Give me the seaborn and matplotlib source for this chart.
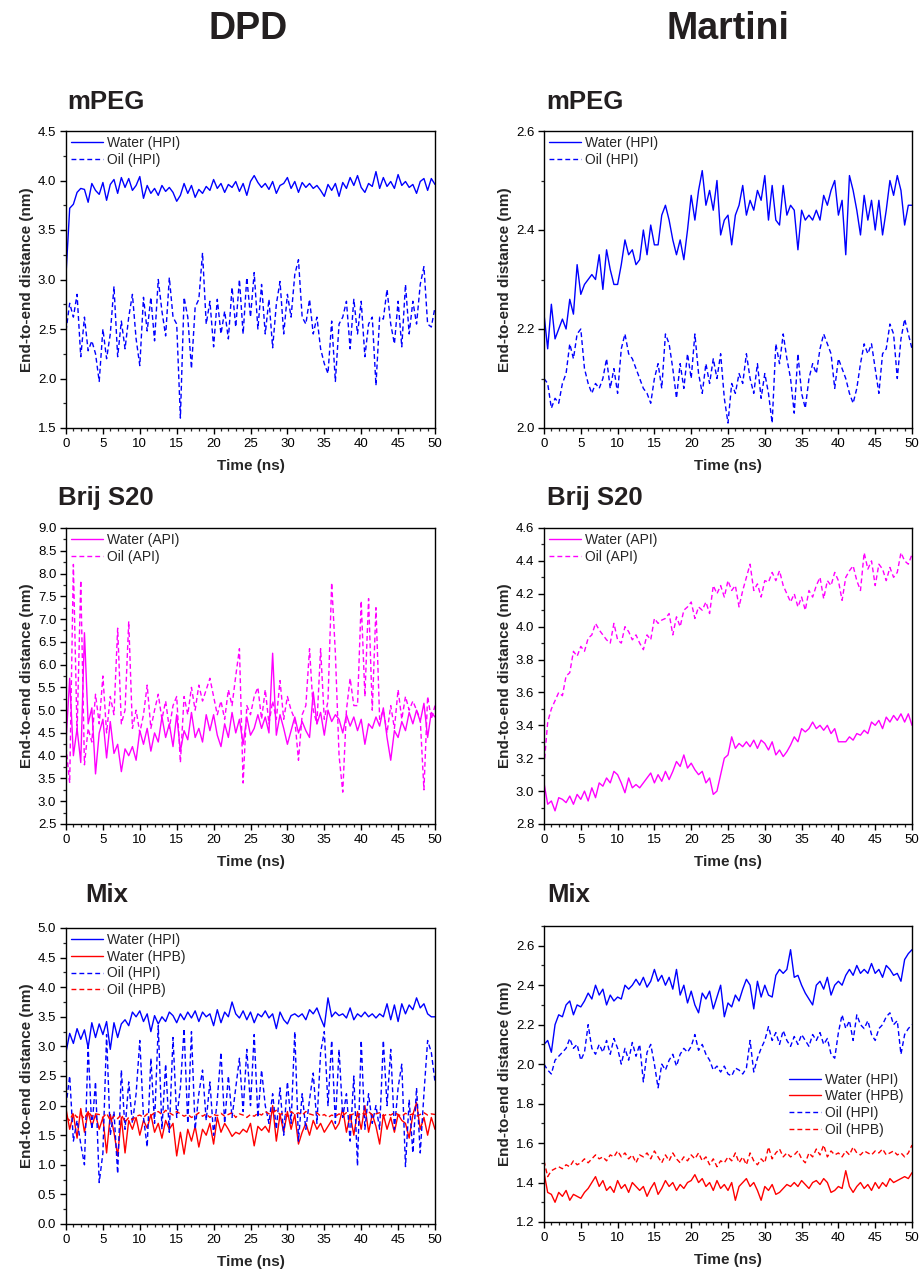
import numpy as np
import matplotlib
matplotlib.use("Agg")
import matplotlib.pyplot as plt
from matplotlib.ticker import MultipleLocator
import seaborn as sns

# ---------------- data ----------------
time_ns = np.arange(0, 50.01, 0.5)

# DPD mPEG
dpd_peg_water_hpi = [3.05, 3.72, 3.76, 3.88, 3.92, 3.91, 3.78, 3.97, 3.90, 3.86, 3.98, 3.80, 3.96, 4.01, 3.87, 4.03, 3.93, 4.02, 3.90, 3.95,
                     4.04, 3.82, 3.95, 3.87, 3.92, 3.85, 3.95, 3.89, 3.93, 3.88, 3.79, 3.85, 3.97, 3.87, 3.95, 3.83, 3.91, 3.87, 3.94, 3.90,
                     4.01, 3.92, 3.97, 3.88, 3.96, 3.93, 3.99, 3.89, 3.97, 3.85, 3.99, 4.05, 3.98, 3.93, 3.97, 3.91, 3.99, 3.87, 3.95, 3.97,
                     4.03, 3.92, 3.99, 3.88, 3.98, 3.93, 3.97, 3.92, 3.95, 3.90, 3.84, 3.96, 3.90, 3.97, 3.84, 3.98, 3.92, 4.03, 3.95, 4.05,
                     3.93, 3.88, 3.97, 3.94, 4.09, 3.92, 4.03, 3.94, 3.99, 3.92, 4.06, 3.95, 3.99, 3.93, 3.96, 3.87, 3.99, 4.02, 3.90, 4.02, 3.96]
dpd_peg_oil_hpi = [2.48, 2.76, 2.62, 2.85, 2.22, 2.62, 2.28, 2.38, 2.25, 1.97, 2.50, 2.20, 2.45, 2.93, 2.22, 2.58, 2.30, 2.62, 2.85, 2.40,
                   2.13, 2.82, 2.48, 2.82, 2.38, 3.00, 2.68, 2.43, 3.02, 2.62, 2.55, 1.60, 2.82, 2.62, 2.10, 2.72, 2.80, 3.27, 2.55, 2.78,
                   2.32, 2.80, 2.45, 2.68, 2.40, 2.92, 2.52, 3.00, 2.45, 3.02, 2.62, 3.07, 2.50, 2.95, 2.45, 2.80, 2.31, 2.75, 2.98, 2.45,
                   2.85, 2.62, 3.05, 3.20, 2.62, 2.55, 2.80, 2.45, 2.62, 2.30, 2.15, 2.05, 2.58, 1.97, 2.55, 2.62, 2.78, 2.30, 2.80, 2.45,
                   2.78, 2.22, 2.55, 2.62, 1.93, 2.62, 2.60, 2.90, 2.55, 2.35, 2.78, 2.32, 2.95, 2.45, 2.78, 2.55, 2.95, 3.13, 2.55, 2.52, 2.72]

# Martini mPEG
mar_peg_water_hpi = [2.23, 2.16, 2.25, 2.18, 2.20, 2.22, 2.20, 2.26, 2.23, 2.33, 2.27, 2.29, 2.30, 2.31, 2.30, 2.35, 2.28, 2.36, 2.32, 2.29,
                     2.29, 2.33, 2.38, 2.35, 2.36, 2.33, 2.34, 2.40, 2.35, 2.41, 2.37, 2.37, 2.43, 2.45, 2.42, 2.38, 2.35, 2.38, 2.34, 2.40,
                     2.47, 2.42, 2.48, 2.52, 2.45, 2.48, 2.44, 2.50, 2.39, 2.42, 2.43, 2.37, 2.43, 2.45, 2.49, 2.43, 2.46, 2.44, 2.48, 2.46,
                     2.51, 2.42, 2.49, 2.42, 2.41, 2.49, 2.43, 2.45, 2.44, 2.36, 2.44, 2.42, 2.43, 2.42, 2.44, 2.42, 2.47, 2.45, 2.48, 2.50,
                     2.43, 2.46, 2.35, 2.51, 2.48, 2.44, 2.39, 2.47, 2.42, 2.46, 2.40, 2.46, 2.39, 2.44, 2.50, 2.47, 2.51, 2.48, 2.41, 2.45, 2.45]
mar_peg_oil_hpi = [2.10, 2.09, 2.04, 2.06, 2.05, 2.09, 2.11, 2.17, 2.14, 2.19, 2.20, 2.12, 2.09, 2.07, 2.09, 2.08, 2.10, 2.14, 2.08, 2.12,
                   2.07, 2.16, 2.19, 2.15, 2.14, 2.12, 2.10, 2.08, 2.07, 2.05, 2.10, 2.13, 2.08, 2.19, 2.17, 2.12, 2.06, 2.13, 2.08, 2.15,
                   2.10, 2.19, 2.11, 2.07, 2.13, 2.09, 2.14, 2.10, 2.15, 2.06, 2.01, 2.09, 2.07, 2.11, 2.09, 2.15, 2.10, 2.07, 2.13, 2.06,
                   2.11, 2.07, 2.01, 2.17, 2.13, 2.19, 2.14, 2.10, 2.03, 2.15, 2.07, 2.04, 2.10, 2.13, 2.11, 2.16, 2.19, 2.17, 2.15, 2.08,
                   2.14, 2.12, 2.10, 2.07, 2.05, 2.08, 2.13, 2.17, 2.15, 2.17, 2.12, 2.07, 2.15, 2.16, 2.21, 2.19, 2.10, 2.18, 2.22, 2.19, 2.16]

# DPD Brij S20
dpd_brij_water_api = [4.30, 5.70, 4.00, 4.60, 3.85, 6.70, 4.70, 5.05, 3.60, 4.50, 4.80, 3.95, 4.75, 4.05, 4.25, 3.65, 4.15, 4.00, 4.20, 3.90,
                      4.55, 4.25, 4.60, 4.10, 4.50, 4.30, 4.85, 4.40, 4.70, 4.20, 4.90, 4.10, 4.55, 4.35, 4.95, 4.40, 4.60, 4.30, 4.90, 4.55,
                      4.90, 4.45, 4.20, 4.70, 4.40, 4.95, 4.50, 4.80, 4.25, 4.85, 4.45, 4.60, 4.90, 4.60, 4.85, 4.50, 6.25, 4.45, 4.90, 4.60,
                      4.25, 4.55, 4.85, 4.50, 4.75, 4.55, 4.40, 5.40, 4.70, 4.95, 4.45, 5.00, 4.75, 4.90, 4.80, 4.50, 4.90, 4.65, 4.85, 4.55,
                      4.80, 4.25, 4.70, 4.60, 4.85, 4.65, 5.05, 4.40, 3.90, 4.55, 4.40, 4.75, 4.55, 4.95, 4.70, 5.00, 4.75, 5.15, 4.40, 4.95, 4.85]
dpd_brij_oil_api = [4.20, 3.40, 8.20, 4.50, 7.85, 3.80, 4.60, 4.30, 5.35, 4.70, 5.75, 4.50, 5.30, 4.90, 6.80, 4.70, 5.00, 6.95, 4.60, 5.00,
                    4.50, 4.90, 5.55, 4.60, 5.00, 5.35, 4.80, 5.20, 4.60, 5.10, 5.30, 3.85, 5.30, 4.90, 5.50, 5.00, 5.55, 5.20, 5.45, 5.70,
                    5.30, 4.90, 5.20, 4.80, 5.45, 5.10, 5.75, 6.35, 3.40, 5.10, 4.90, 5.30, 5.50, 4.80, 5.45, 4.70, 5.20, 4.80, 5.65, 4.80,
                    5.30, 5.00, 4.80, 3.90, 4.90, 5.10, 6.35, 5.00, 4.70, 6.35, 4.80, 5.20, 7.80, 6.25, 4.00, 3.20, 5.00, 5.70, 5.10, 5.10,
                    7.40, 5.30, 7.45, 5.00, 7.25, 4.80, 5.00, 4.50, 5.10, 4.60, 5.45, 4.80, 5.30, 5.00, 5.20, 5.00, 4.80, 3.25, 5.30, 4.80, 5.10]

# Martini Brij S20
mar_brij_water_api = [3.05, 2.92, 2.94, 2.88, 2.96, 2.95, 2.93, 2.97, 2.92, 2.98, 2.95, 3.00, 2.94, 3.02, 2.96, 3.05, 3.03, 3.08, 3.05, 3.12,
                      3.10, 3.05, 2.99, 3.08, 3.02, 3.04, 3.02, 3.05, 3.08, 3.11, 3.05, 3.10, 3.06, 3.12, 3.07, 3.12, 3.18, 3.15, 3.22, 3.14,
                      3.17, 3.13, 3.10, 3.12, 3.05, 3.08, 2.98, 3.00, 3.10, 3.20, 3.22, 3.33, 3.26, 3.29, 3.27, 3.30, 3.27, 3.31, 3.26, 3.31,
                      3.29, 3.25, 3.30, 3.22, 3.25, 3.21, 3.24, 3.28, 3.33, 3.30, 3.38, 3.36, 3.38, 3.42, 3.38, 3.40, 3.37, 3.40, 3.35, 3.38,
                      3.30, 3.30, 3.30, 3.33, 3.31, 3.35, 3.34, 3.37, 3.35, 3.42, 3.40, 3.43, 3.38, 3.45, 3.42, 3.46, 3.43, 3.47, 3.42, 3.47, 3.40]
mar_brij_oil_api = [3.15, 3.42, 3.50, 3.55, 3.60, 3.58, 3.70, 3.72, 3.85, 3.82, 3.88, 3.85, 3.93, 3.95, 4.02, 3.98, 3.95, 3.92, 3.90, 4.02,
                    3.92, 3.90, 4.00, 3.97, 3.92, 3.95, 3.90, 3.86, 3.95, 3.92, 4.05, 4.02, 4.04, 4.05, 4.08, 3.95, 4.06, 4.00, 4.10, 4.12,
                    4.15, 4.05, 4.12, 4.10, 4.15, 4.08, 4.25, 4.20, 4.25, 4.18, 4.28, 4.22, 4.25, 4.12, 4.22, 4.30, 4.38, 4.22, 4.26, 4.18,
                    4.28, 4.27, 4.33, 4.28, 4.34, 4.25, 4.20, 4.15, 4.20, 4.12, 4.18, 4.10, 4.22, 4.18, 4.25, 4.30, 4.17, 4.28, 4.25, 4.33,
                    4.28, 4.16, 4.30, 4.34, 4.37, 4.28, 4.22, 4.45, 4.35, 4.40, 4.25, 4.38, 4.35, 4.28, 4.36, 4.30, 4.33, 4.45, 4.40, 4.38, 4.44]

# DPD Mix
dpd_mix_water_hpi = [2.90, 3.22, 3.05, 3.30, 3.12, 3.28, 2.98, 3.40, 3.15, 3.38, 3.20, 3.42, 2.95, 3.40, 3.15, 3.38, 3.45, 3.35, 3.58, 3.50,
                     3.60, 3.42, 3.55, 3.25, 3.52, 3.38, 3.50, 3.42, 3.58, 3.52, 3.40, 3.55, 3.45, 3.58, 3.48, 3.60, 3.42, 3.58, 3.50, 3.55,
                     3.35, 3.62, 3.40, 3.58, 3.50, 3.75, 3.55, 3.48, 3.60, 3.45, 3.58, 3.40, 3.55, 3.50, 3.60, 3.48, 3.55, 3.30, 3.58, 3.45,
                     3.38, 3.52, 3.55, 3.50, 3.55, 3.45, 3.62, 3.55, 3.65, 3.48, 3.33, 3.82, 3.50, 3.58, 3.52, 3.55, 3.48, 3.65, 3.45, 3.55,
                     3.50, 3.58, 3.50, 3.55, 3.48, 3.55, 3.50, 3.72, 3.45, 3.70, 3.42, 3.72, 3.55, 3.70, 3.62, 3.82, 3.65, 3.72, 3.55, 3.50, 3.50]
dpd_mix_water_hpb = [1.95, 1.60, 1.85, 1.45, 1.95, 1.55, 1.90, 1.65, 1.85, 1.60, 1.80, 1.20, 1.85, 1.55, 1.15, 1.80, 1.20, 1.75, 1.60, 1.80,
                     1.50, 1.75, 1.62, 1.85, 1.55, 1.70, 1.45, 1.75, 1.60, 1.70, 1.15, 1.55, 1.18, 1.60, 1.40, 1.65, 1.30, 1.60, 1.50, 1.70,
                     1.35, 1.80, 1.55, 1.70, 1.60, 1.48, 1.55, 1.52, 1.60, 1.55, 1.70, 1.32, 1.65, 1.58, 1.65, 1.55, 2.00, 1.40, 1.85, 1.55,
                     1.90, 1.60, 1.85, 1.35, 1.55, 1.70, 1.50, 1.75, 1.60, 1.70, 1.55, 1.65, 1.75, 1.60, 1.70, 1.95, 1.55, 1.85, 1.50, 1.90,
                     1.60, 2.00, 1.55, 1.85, 1.65, 1.35, 1.85, 1.60, 1.80, 1.55, 1.85, 1.75, 1.70, 1.45, 1.85, 2.05, 1.60, 1.80, 1.50, 1.80, 1.60]
dpd_mix_oil_hpi = [2.00, 2.50, 1.40, 1.75, 1.35, 1.00, 3.00, 1.60, 2.40, 0.70, 1.20, 3.20, 1.50, 1.90, 0.85, 2.60, 1.60, 2.40, 1.70, 2.20,
                   3.10, 1.80, 1.30, 2.80, 1.70, 3.35, 1.60, 2.70, 1.55, 3.15, 1.80, 2.30, 3.30, 1.70, 3.25, 1.60, 2.20, 2.60, 1.75, 2.40,
                   1.50, 2.10, 2.90, 1.70, 2.50, 1.80, 2.30, 2.80, 1.90, 2.95, 2.00, 3.20, 1.80, 2.60, 2.00, 1.70, 2.20, 1.60, 2.30, 1.50,
                   2.40, 1.70, 3.25, 1.40, 2.20, 1.60, 2.10, 2.55, 1.70, 2.90, 3.25, 2.00, 3.10, 1.70, 2.95, 1.80, 2.20, 1.40, 2.50, 0.98,
                   3.10, 1.60, 2.20, 1.70, 2.00, 1.60, 3.10, 2.00, 2.95, 1.60, 2.30, 2.70, 0.97, 2.10, 1.20, 2.30, 1.20, 2.20, 3.10, 2.90, 2.40]
dpd_mix_oil_hpb = [1.80, 1.75, 1.88, 1.80, 1.85, 1.78, 1.90, 1.82, 1.86, 1.85, 1.80, 1.87, 1.75, 1.82, 1.78, 1.85, 1.72, 1.80, 1.76, 1.82,
                   1.84, 1.80, 1.86, 1.83, 1.88, 1.90, 1.85, 1.92, 1.88, 1.84, 1.90, 1.86, 1.82, 1.85, 1.80, 1.83, 1.88, 1.82, 1.86, 1.80,
                   1.85, 1.83, 1.87, 1.82, 1.85, 1.88, 1.80, 1.86, 1.84, 1.80, 1.85, 1.82, 1.87, 1.84, 1.90, 1.86, 1.88, 1.92, 1.85, 1.88,
                   1.82, 1.90, 1.85, 1.88, 1.84, 1.90, 1.86, 1.84, 1.88, 1.82, 1.85, 1.80, 1.84, 1.82, 1.86, 1.83, 1.88, 1.84, 1.86, 1.82,
                   1.88, 1.85, 1.90, 1.84, 1.86, 1.88, 1.82, 1.86, 1.84, 1.88, 1.85, 1.82, 1.87, 1.84, 1.86, 1.82, 1.85, 1.88, 1.84, 1.86, 1.85]

# Martini Mix
mar_mix_water_hpi = [2.10, 2.12, 2.06, 2.20, 2.25, 2.24, 2.30, 2.32, 2.25, 2.30, 2.29, 2.32, 2.36, 2.33, 2.40, 2.35, 2.38, 2.30, 2.35, 2.32,
                     2.34, 2.33, 2.40, 2.38, 2.40, 2.43, 2.40, 2.44, 2.39, 2.42, 2.48, 2.42, 2.45, 2.40, 2.44, 2.38, 2.48, 2.35, 2.40, 2.31,
                     2.37, 2.30, 2.26, 2.36, 2.33, 2.37, 2.28, 2.34, 2.40, 2.24, 2.31, 2.29, 2.35, 2.32, 2.38, 2.43, 2.40, 2.28, 2.42, 2.34,
                     2.40, 2.35, 2.34, 2.45, 2.48, 2.46, 2.48, 2.58, 2.44, 2.45, 2.40, 2.36, 2.33, 2.30, 2.40, 2.42, 2.38, 2.44, 2.35, 2.40,
                     2.42, 2.40, 2.45, 2.48, 2.45, 2.50, 2.46, 2.48, 2.46, 2.51, 2.46, 2.48, 2.44, 2.50, 2.48, 2.45, 2.46, 2.42, 2.53, 2.56, 2.58]
mar_mix_water_hpb = [1.45, 1.35, 1.34, 1.30, 1.35, 1.33, 1.36, 1.31, 1.34, 1.33, 1.32, 1.35, 1.37, 1.40, 1.43, 1.38, 1.41, 1.36, 1.38, 1.35,
                     1.41, 1.37, 1.39, 1.35, 1.40, 1.38, 1.36, 1.38, 1.33, 1.37, 1.40, 1.34, 1.37, 1.41, 1.38, 1.40, 1.36, 1.39, 1.37, 1.40,
                     1.41, 1.44, 1.40, 1.42, 1.38, 1.40, 1.36, 1.41, 1.37, 1.39, 1.36, 1.40, 1.31, 1.38, 1.40, 1.42, 1.38, 1.40, 1.36, 1.31,
                     1.38, 1.36, 1.39, 1.34, 1.35, 1.37, 1.39, 1.38, 1.40, 1.38, 1.41, 1.39, 1.37, 1.40, 1.41, 1.39, 1.42, 1.40, 1.35, 1.36,
                     1.38, 1.37, 1.46, 1.38, 1.35, 1.38, 1.40, 1.37, 1.39, 1.36, 1.40, 1.37, 1.40, 1.38, 1.42, 1.40, 1.41, 1.42, 1.43, 1.42, 1.45]
mar_mix_oil_hpi = [2.00, 1.97, 1.95, 2.02, 2.04, 2.06, 2.08, 2.13, 2.08, 2.10, 2.02, 2.06, 2.20, 2.08, 2.05, 2.10, 2.06, 2.12, 2.05, 2.13,
                   2.08, 2.00, 2.08, 2.02, 2.11, 2.04, 2.10, 1.91, 2.06, 2.10, 2.00, 1.88, 2.00, 1.97, 2.02, 2.05, 1.99, 2.05, 2.08, 2.06,
                   2.09, 2.15, 2.07, 2.10, 2.05, 2.02, 1.97, 1.99, 1.96, 1.99, 1.95, 1.94, 1.98, 1.97, 1.95, 1.98, 2.12, 1.96, 2.03, 2.08,
                   2.12, 2.19, 2.12, 2.16, 2.10, 2.17, 2.12, 2.09, 2.14, 2.10, 2.15, 2.12, 2.09, 2.15, 2.12, 2.16, 2.10, 2.13, 2.05, 2.03,
                   2.16, 2.25, 2.18, 2.22, 2.12, 2.25, 2.20, 2.18, 2.22, 2.15, 2.12, 2.18, 2.20, 2.24, 2.26, 2.20, 2.22, 2.05, 2.15, 2.18, 2.20]
mar_mix_oil_hpb = [1.51, 1.43, 1.46, 1.47, 1.48, 1.47, 1.49, 1.48, 1.51, 1.49, 1.50, 1.52, 1.50, 1.52, 1.54, 1.52, 1.53, 1.51, 1.54, 1.53,
                   1.56, 1.53, 1.55, 1.52, 1.54, 1.50, 1.54, 1.53, 1.55, 1.52, 1.56, 1.53, 1.50, 1.54, 1.51, 1.55, 1.52, 1.50, 1.53, 1.51,
                   1.54, 1.52, 1.55, 1.51, 1.53, 1.49, 1.52, 1.48, 1.51, 1.50, 1.53, 1.51, 1.55, 1.50, 1.53, 1.49, 1.55, 1.51, 1.49, 1.52,
                   1.50, 1.58, 1.52, 1.55, 1.57, 1.53, 1.55, 1.53, 1.54, 1.56, 1.52, 1.50, 1.55, 1.53, 1.57, 1.54, 1.59, 1.53, 1.56, 1.54,
                   1.55, 1.53, 1.56, 1.54, 1.58, 1.55, 1.54, 1.56, 1.55, 1.54, 1.56, 1.55, 1.57, 1.54, 1.55, 1.56, 1.54, 1.55, 1.53, 1.55, 1.59]

col_titles = ["DPD", "Martini"]
row_titles = ["mPEG", "Brij S20", "Mix"]
x_label = "Time (ns)"
y_label = "End-to-end distance (nm)"

BLUE = "#0000FF"
MAG = "#FF00FF"
RED = "#FF0000"
SOLID = "-"
DASH = (0, (3.5, 2.2))

panels = [
    # (row, col, series list, ylim, ystep, legend anchor)
    (0, 0, [(dpd_peg_water_hpi, "Water (HPI)", BLUE, SOLID), (dpd_peg_oil_hpi, "Oil (HPI)", BLUE, DASH)], (1.5, 4.5), 0.5, None),
    (0, 1, [(mar_peg_water_hpi, "Water (HPI)", BLUE, SOLID), (mar_peg_oil_hpi, "Oil (HPI)", BLUE, DASH)], (2.0, 2.6), 0.2, None),
    (1, 0, [(dpd_brij_water_api, "Water (API)", MAG, SOLID), (dpd_brij_oil_api, "Oil (API)", MAG, DASH)], (2.5, 9.0), 0.5, None),
    (1, 1, [(mar_brij_water_api, "Water (API)", MAG, SOLID), (mar_brij_oil_api, "Oil (API)", MAG, DASH)], (2.8, 4.6), 0.2, None),
    (2, 0, [(dpd_mix_water_hpi, "Water (HPI)", BLUE, SOLID), (dpd_mix_water_hpb, "Water (HPB)", RED, SOLID),
            (dpd_mix_oil_hpi, "Oil (HPI)", BLUE, DASH), (dpd_mix_oil_hpb, "Oil (HPB)", RED, DASH)], (0.0, 5.0), 0.5, None),
    (2, 1, [(mar_mix_water_hpi, "Water (HPI)", BLUE, SOLID), (mar_mix_water_hpb, "Water (HPB)", RED, SOLID),
            (mar_mix_oil_hpi, "Oil (HPI)", BLUE, DASH), (mar_mix_oil_hpb, "Oil (HPB)", RED, DASH)], (1.2, 2.7), 0.2, (0.665, 0.505)),
]

sns.set_style("ticks")
plt.rcParams["font.family"] = ["Liberation Sans", "DejaVu Sans"]

W, H = 919, 1269
fig = plt.figure(figsize=(W / 100, H / 100), dpi=100)

col_left = [66, 544]
col_right = [435, 912]
row_top = [[131, 131], [528, 528], [928, 926]]
row_bot = [[428, 428], [824, 824], [1224, 1222]]

for (r, c, series, ylim, ystep, legpos) in panels:
    l, rr = col_left[c], col_right[c]
    t, b = row_top[r][c], row_bot[r][c]
    ax = fig.add_axes([l / W, 1 - b / H, (rr - l) / W, (b - t) / H])
    for vals, lab, colr, ls in series:
        sns.lineplot(x=time_ns, y=np.array(vals), ax=ax, color=colr, linestyle=ls,
                     linewidth=1.0, label=lab, estimator=None, sort=False)
    ax.set_xlim(0, 50)
    ax.set_ylim(*ylim)
    ax.xaxis.set_major_locator(MultipleLocator(5))
    ax.xaxis.set_minor_locator(MultipleLocator(1))
    ax.yaxis.set_major_locator(MultipleLocator(ystep))
    ax.yaxis.set_minor_locator(MultipleLocator(ystep / 2))
    ax.tick_params(which="major", direction="out", length=4, width=1, labelsize=9.5, pad=3, colors="black")
    ax.tick_params(which="minor", direction="out", length=2.2, width=0.9)
    ax.tick_params(top=False, right=False, which="both")
    ax.yaxis.set_major_formatter(matplotlib.ticker.FormatStrFormatter("%.1f"))
    for sp in ax.spines.values():
        sp.set_visible(True)
        sp.set_linewidth(1.0)
        sp.set_color("black")
    ax.set_xlabel(x_label, fontsize=11, fontweight="bold", labelpad=7)
    ax.set_ylabel(y_label, fontsize=11, fontweight="bold", labelpad=3)
    if legpos is None:
        ax.legend(loc="upper left", frameon=False, fontsize=10, handlelength=2.3,
                  handletextpad=0.3, labelspacing=0.2, borderaxespad=0.1, borderpad=0.25)
    else:
        ax.legend(loc="upper left", bbox_to_anchor=legpos, frameon=False, fontsize=10, handlelength=2.3,
                  handletextpad=0.3, labelspacing=0.2, borderaxespad=0.0, borderpad=0.0)

# column titles
for txt, xc in zip(col_titles, [248, 728]):
    fig.text(xc / W, 1 - 29 / H, txt, ha="center", va="center", fontsize=27, fontweight="bold", color="#231F20")

# row/panel titles
title_pos = [[(67, 102), (546, 102)], [(58, 498), (547, 498)], [(85, 895), (547, 895)]]
for r, name in enumerate(row_titles):
    for c in range(2):
        x, y = title_pos[r][c]
        fig.text(x / W, 1 - y / H, name, ha="left", va="center", fontsize=18.5, fontweight="bold", color="#231F20")

fig.savefig("out.png", dpi=100)
